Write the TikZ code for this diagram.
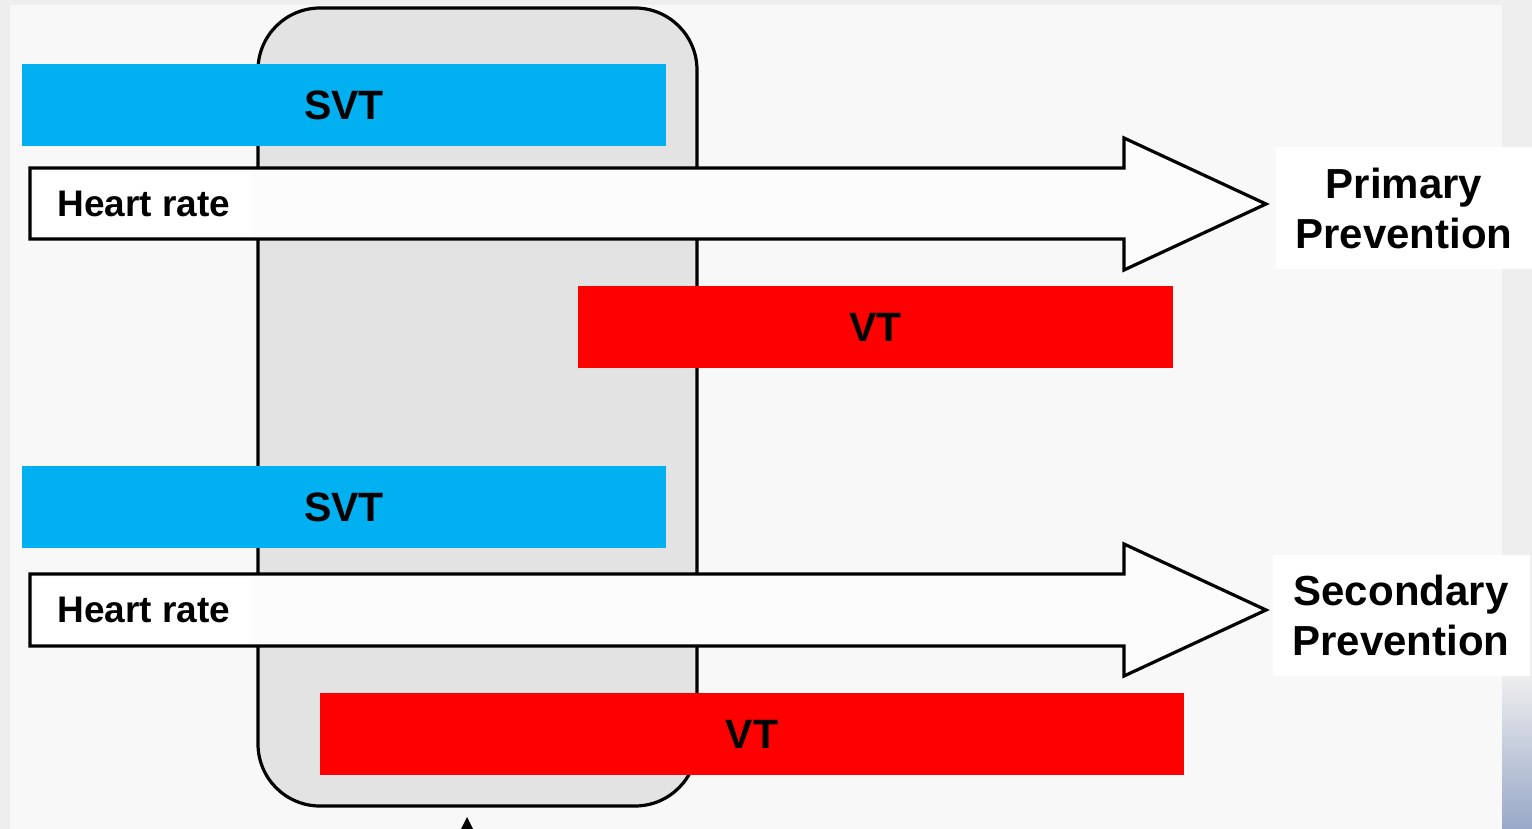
\documentclass[tikz,border=0pt]{standalone}
\usepackage{fontspec}
\setmainfont{Liberation Sans}
\definecolor{svtblue}{HTML}{00B0F0}
\definecolor{vtred}{HTML}{FF0000}
\definecolor{pagegray}{HTML}{EEEEEE}
\definecolor{panel}{HTML}{F8F8F8}
\definecolor{zone}{HTML}{E3E3E3}
\definecolor{edgeblue}{HTML}{98A8C8}
\begin{document}
\begin{tikzpicture}[x=0.5pt,y=-0.5pt,
  svtbox/.style={fill=svtblue, inner sep=0pt, minimum width=322pt, minimum height=41pt,
    font=\fontsize{20.5}{24}\selectfont\bfseries},
  vtbox/.style={fill=vtred, inner sep=0pt, minimum height=41pt,
    font=\fontsize{20.5}{24}\selectfont\bfseries},
  bigarrow/.style={draw=black, line width=1.6pt, fill=white!60!panel, line join=miter},
  ratelabel/.style={fill=white, inner sep=0pt, minimum width=108pt, minimum height=32pt,
    font=\fontsize{18.5}{22}\selectfont\bfseries},
  outcome/.style={fill=white, inner sep=0pt, minimum width=128.5pt, minimum height=60.5pt,
    align=center, font=\fontsize{21}{25}\selectfont\bfseries},
  zonebox/.style={draw=black, line width=1.6pt, fill=zone, rounded corners=31pt}]
\useasboundingbox (0,0) rectangle (1532,829);

% page background and right-hand strip
\fill[pagegray] (0,0) rectangle (1532,829);
\fill[panel] (10,5) rectangle (1502,829);
\shade[top color=pagegray, bottom color=edgeblue] (1502,676) rectangle (1532,829);

% shaded overlap zone
\path[zonebox] (258,8) rectangle (697,806);

% heart-rate arrows
\coordinate (tipA) at (1266,204);
\coordinate (tipB) at (1266,610);
\draw[bigarrow] (30,168) -- (1124,168) -- (1124,138) -- (tipA) -- (1124,270) -- (1124,239) -- (30,239) -- cycle;
\draw[bigarrow] (30,574) -- (1124,574) -- (1124,544) -- (tipB) -- (1124,676) -- (1124,646) -- (30,646) -- cycle;
\node[ratelabel] (rateA) at (144,204) {Heart rate};
\node[ratelabel] (rateB) at (144,610) {Heart rate};

% arrhythmia bands
\node[svtbox] (svtA) at (344,105) {SVT};
\node[vtbox, minimum width=297.5pt] (vtA) at (875.5,327) {VT};
\node[svtbox] (svtB) at (344,507) {SVT};
\node[vtbox, minimum width=432pt] (vtB) at (752,734) {VT};

% outcome labels
\node[outcome] (primary) at (1404,208) {Primary\\Prevention};
\node[outcome] (secondary) at (1401,615) {Secondary\\Prevention};

% pointer entering from below
\fill[black] (461,829) -- (467,817) -- (473,829) -- cycle;
\end{tikzpicture}
\end{document}
